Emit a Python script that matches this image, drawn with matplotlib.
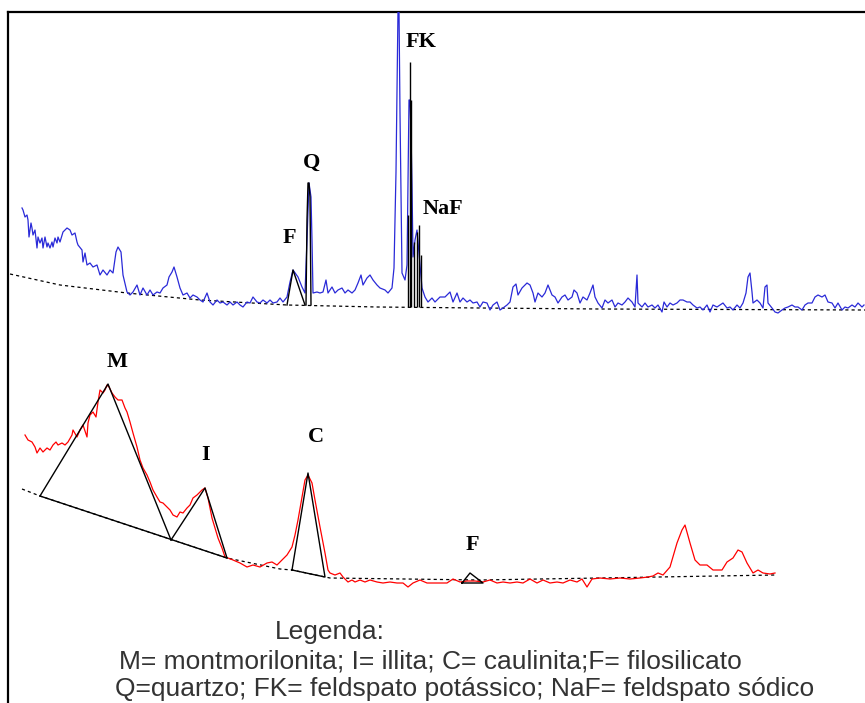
import matplotlib
matplotlib.use("Agg")
import matplotlib.pyplot as plt

# (channel, counts) read off the scan; counts are measured above the base line
# top pattern (blue)
blue_scan = [
    (22, 102), (23, 100), (25, 93), (27, 95), (28, 90), (29, 73), (31, 87), (32, 82), (33, 75),
    (35, 80), (37, 62), (38, 73), (40, 67), (42, 72), (43, 62), (45, 73), (47, 63), (48, 67),
    (50, 62), (52, 68), (53, 63), (55, 72), (57, 67), (58, 73), (60, 68), (63, 78), (67, 82),
    (70, 80), (72, 75), (75, 77), (77, 68), (78, 65), (82, 60), (83, 48), (85, 57), (87, 45),
    (90, 47), (93, 43), (97, 45), (100, 35), (103, 40), (107, 35), (110, 40), (113, 37),
    (116, 58), (118, 63), (121, 58), (123, 35), (127, 18), (130, 15), (133, 18), (137, 25),
    (140, 15), (143, 22), (147, 15), (150, 20), (153, 15), (157, 18), (160, 17), (163, 22),
    (167, 25), (169, 33), (172, 38), (174, 43), (177, 33), (180, 22), (183, 15), (187, 17),
    (190, 12), (193, 15), (197, 13), (200, 10), (203, 8), (207, 17), (210, 8), (213, 5),
    (217, 10), (220, 7), (223, 8), (227, 5), (230, 8), (233, 5), (237, 8), (240, 5), (243, 3),
    (247, 8), (250, 7), (253, 13), (257, 8), (260, 7), (263, 10), (267, 7), (270, 10), (273, 7),
    (277, 8), (280, 12), (283, 8), (287, 13), (290, 28), (293, 40), (298, 33), (302, 23),
    (305, 17), (307, 70), (309, 127), (311, 113), (312, 70), (313, 17), (317, 18), (320, 17),
    (323, 18), (326, 30), (328, 17), (332, 23), (335, 17), (338, 20), (342, 22), (345, 17),
    (348, 20), (352, 17), (355, 20), (358, 27), (361, 35), (363, 25), (367, 32), (370, 35),
    (373, 30), (377, 25), (380, 22), (385, 20), (388, 17), (392, 22), (394, 42), (396, 138),
    (398, 300), (399, 300), (400, 197), (402, 37), (405, 30), (407, 45), (409, 210), (410, 210),
    (411, 177), (412, 125), (413, 53), (415, 70), (417, 80), (419, 57), (421, 35), (422, 22),
    (425, 13), (428, 8), (432, 12), (435, 8), (440, 13), (445, 13), (450, 18), (453, 8),
    (457, 17), (460, 8), (463, 12), (467, 8), (470, 10), (473, 7), (477, 8), (480, 3), (483, 8),
    (487, 7), (490, 0), (493, 5), (497, 8), (500, 0), (503, 2), (507, 5), (510, 8), (513, 23),
    (516, 26), (518, 15), (522, 22), (525, 25), (527, 27), (530, 25), (533, 17), (535, 8),
    (538, 17), (542, 13), (545, 17), (548, 25), (552, 15), (555, 13), (558, 7), (562, 13),
    (565, 15), (568, 10), (572, 13), (574, 20), (577, 17), (580, 7), (583, 13), (587, 10),
    (590, 17), (593, 25), (595, 13), (598, 7), (602, 2), (605, 10), (608, 7), (612, 10),
    (615, 3), (618, 7), (622, 5), (625, 8), (628, 12), (632, 8), (635, 3), (637, 35), (638, 7),
    (642, 3), (645, 7), (648, 3), (652, 5), (655, 2), (658, 5), (662, -2), (664, 8), (667, 3),
    (670, 7), (673, 5), (677, 7), (680, 10), (683, 10), (687, 8), (690, 8), (693, 5), (697, 2),
    (700, 3), (703, 0), (707, 5), (710, -2), (713, 5), (717, 3), (720, 5), (723, 7), (727, 2),
    (730, 3), (733, 0), (737, 5), (740, 2), (743, 7), (746, 17), (748, 33), (750, 37), (752, 18),
    (753, 7), (757, 10), (760, 7), (763, 2), (765, 23), (767, 25), (768, 7), (772, 2), (775, -2),
    (778, -3), (782, 0), (785, 2), (788, 3), (792, 5), (795, 3), (798, 3), (802, 0), (805, 5),
    (808, 7), (812, 7), (815, 13), (818, 15), (822, 13), (825, 15), (828, 8), (832, 7), (835, 2),
    (838, 7), (842, 0), (845, 3), (848, 2), (852, 5), (855, 3), (858, 7), (862, 3), (864, 5),
]
blue_base_ch = [10, 60, 127, 200, 287, 377, 480, 600, 865]
blue_base = [36, 25, 17, 10, 5, 3, 2, 1, 0]

# fitted peaks on the top pattern
f_top_ch = [287, 293, 305]
f_top = [5, 40, 5]
q_ch = [306, 307, 308, 309, 310, 311]
q_counts = [5, 90, 127, 127, 113, 5]
fk_ch = [408, 410, 411, 414, 417, 419, 421]
fk_counts = [95, 248, 210, 68, 78, 85, 55]

# bottom pattern (red)
red_scan = [
    (25, 155), (28, 150), (32, 148), (35, 143), (37, 137), (40, 142), (43, 138), (47, 142),
    (50, 140), (53, 145), (56, 148), (58, 145), (62, 147), (65, 145), (68, 148), (72, 155),
    (73, 160), (77, 153), (80, 160), (83, 165), (87, 153), (88, 167), (90, 175), (93, 178),
    (96, 173), (98, 188), (100, 200), (103, 197), (105, 200), (107, 205), (109, 203), (112, 197),
    (115, 193), (118, 190), (122, 190), (125, 182), (127, 178), (130, 168), (133, 157),
    (137, 143), (140, 130), (143, 122), (147, 115), (150, 108), (153, 100), (157, 93), (160, 88),
    (163, 87), (167, 83), (170, 80), (173, 75), (177, 73), (180, 78), (183, 77), (187, 82),
    (190, 85), (193, 92), (197, 95), (202, 100), (205, 102), (208, 92), (212, 72), (215, 62),
    (218, 52), (222, 42), (225, 33), (228, 32), (233, 30), (240, 27), (247, 23), (253, 25),
    (260, 23), (267, 27), (272, 28), (277, 25), (282, 30), (287, 35), (292, 43), (295, 55),
    (298, 70), (302, 93), (305, 110), (308, 115), (312, 107), (315, 90), (320, 63), (325, 37),
    (328, 20), (330, 17), (335, 15), (340, 17), (343, 13), (348, 8), (352, 10), (355, 8),
    (360, 10), (365, 8), (370, 10), (377, 8), (383, 7), (390, 8), (397, 7), (403, 7), (408, 3),
    (413, 7), (420, 10), (427, 7), (437, 7), (447, 7), (453, 11), (460, 8), (467, 9), (475, 9),
    (483, 8), (490, 10), (497, 7), (503, 8), (510, 7), (517, 8), (523, 7), (530, 11), (537, 7),
    (543, 10), (550, 7), (557, 8), (563, 7), (570, 10), (577, 8), (582, 11), (587, 3), (592, 11),
    (600, 12), (610, 11), (620, 12), (630, 11), (640, 12), (648, 13), (653, 14), (658, 17),
    (663, 15), (670, 23), (677, 47), (682, 60), (685, 65), (690, 47), (695, 30), (700, 25),
    (707, 25), (713, 20), (722, 20), (727, 28), (733, 32), (738, 40), (742, 38), (747, 27),
    (753, 17), (758, 20), (763, 17), (770, 16), (775, 17),
]
red_base_ch = [22, 40, 227, 280, 292, 330, 480, 600, 775]
red_base = [101, 94, 32, 21, 20, 12, 10, 12, 15]

# fitted triangles on the bottom pattern
fit_line_ch = [40, 227]
fit_line = [94, 32]
m_ch = [40, 108, 171]
m_counts = [94, 206, 50]
i_ch = [171, 205, 227]
i_counts = [50, 102, 32]
c_ch = [292, 308, 325, 292]
c_counts = [20, 117, 13, 20]
f_bot_ch = [462, 470, 483, 462]
f_bot = [7, 17, 7, 7]

top_labels = [("FK", 421, 268), ("Q", 312, 147), ("F", 289, 72), ("NaF", 443, 101)]
bot_labels = [("M", 117, 228), ("I", 206, 135), ("C", 316, 153), ("F", 472, 45)]
legend_lines = [
    ("Legenda:", 330, -42),
    ("M= montmorilonita; I= illita; C= caulinita;F= filosilicato", 430, -71),
    ("Q=quartzo; FK= feldspato potássico; NaF= feldspato sódico", 465, -99),
]

blue_ch = [c for c, _ in blue_scan]
blue_counts = [v for _, v in blue_scan]
red_ch = [c for c, _ in red_scan]
red_counts = [v for _, v in red_scan]

W, H = 865, 703
fig = plt.figure(figsize=(W / 100, H / 100), dpi=100)

# outer frame: only top and left edges are drawn
frame = fig.add_axes([8 / W, 0, (W - 8) / W, (H - 12) / H])
frame.patch.set_alpha(0)
for side in ("right", "bottom"):
    frame.spines[side].set_visible(False)
for side in ("top", "left"):
    frame.spines[side].set_linewidth(1.6)
frame.set_xticks([])
frame.set_yticks([])

top = fig.add_axes([8 / W, (H - 330) / H, (W - 8) / W, 318 / H])
bot = fig.add_axes([8 / W, 0, (W - 8) / W, (H - 330) / H], sharex=top)
for ax in (top, bot):
    ax.set_axis_off()
top.set_xlim(8, 865)
top.set_ylim(-20, 298)
bot.set_ylim(-113, 260)

serif = dict(family="Liberation Serif", fontsize=16, fontweight="bold", ha="center", va="center")

top.plot(blue_base_ch, blue_base, color="black", lw=0.9, ls=(0, (2.5, 2.5)))
top.plot(blue_ch, blue_counts, color="#2a2ad8", lw=0.9)
top.plot(f_top_ch, f_top, color="black", lw=1)
top.plot(q_ch, q_counts, color="black", lw=1)
top.vlines(fk_ch, 3, fk_counts, color="black", lw=1)
for txt, x, y in top_labels:
    top.text(x, y, txt, **serif)

bot.plot(red_base_ch, red_base, color="black", lw=0.9, ls=(0, (2.5, 2.5)))
bot.plot(red_ch, red_counts, color="red", lw=0.9)
bot.plot(fit_line_ch, fit_line, color="black", lw=1)
bot.plot(m_ch, m_counts, color="black", lw=1)
bot.plot(i_ch, i_counts, color="black", lw=1)
bot.plot(c_ch, c_counts, color="black", lw=1)
bot.plot(f_bot_ch, f_bot, color="black", lw=1)
for txt, x, y in bot_labels:
    bot.text(x, y, txt, **serif)

for txt, x, y in legend_lines:
    bot.text(x, y, txt, family="Liberation Sans", fontsize=19, color="#333333",
             ha="center", va="center")

fig.savefig("out.png", dpi=100)
